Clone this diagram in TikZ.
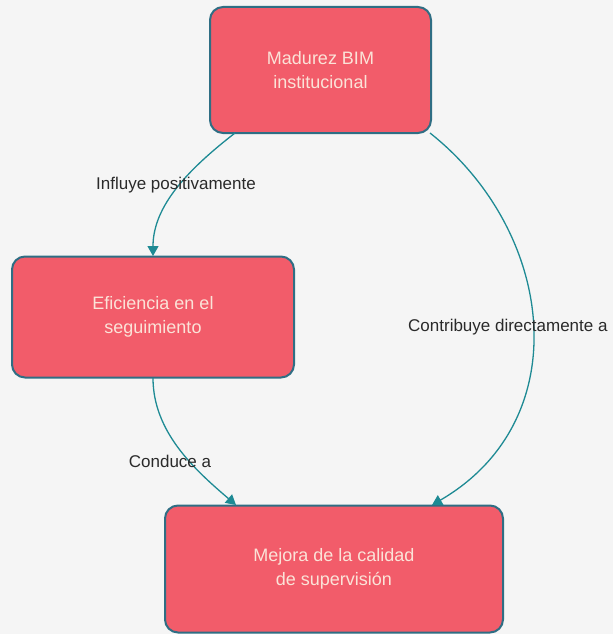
\documentclass[tikz,border=0pt]{standalone}
\usepackage{fontspec}
\setmainfont{Liberation Sans}
\usetikzlibrary{arrows.meta}
\definecolor{bg}{HTML}{F5F5F5}
\definecolor{boxfill}{HTML}{F25C6A}
\definecolor{boxline}{HTML}{2F6E84}
\definecolor{boxtext}{HTML}{FBE3D8}
\definecolor{edgecol}{HTML}{1E8A94}
\definecolor{labtext}{HTML}{2A2A2A}
\tikzset{
  boxnode/.style={draw=boxline, fill=boxfill, line width=2pt, rounded corners=13pt,
    text=boxtext, align=center, font=\fontsize{18}{23.5}\selectfont, inner sep=0pt},
  edgeline/.style={draw=edgecol, line width=1.3pt, -{Triangle[length=10pt,width=11pt]}},
  lab/.style={text=labtext, font=\fontsize{17}{20}\selectfont, inner sep=1pt}
}
\begin{document}
\begin{tikzpicture}[x=1pt,y=-1pt]
\fill[bg] (0,0) rectangle (613,634);
\useasboundingbox (0,0) rectangle (613,634);
\node[boxnode, minimum width=221pt, minimum height=126pt] (a) at (320.5,70) {Madurez BIM\\institucional};
\node[boxnode, minimum width=282pt, minimum height=121pt] (b) at (153,317) {Eficiencia en el\\seguimiento};
\node[boxnode, minimum width=338pt, minimum height=127pt] (c) at (334,569) {Mejora de la calidad\\de supervisión};
\coordinate (a1) at (235,133);
\coordinate (a2) at (430,133);
\coordinate (b1) at (153,256);
\coordinate (b2) at (153,378);
\coordinate (c1) at (236,505);
\coordinate (c2) at (432,505);
\draw[edgeline] (a1) .. controls (190,168) and (153,205) .. (b1);
\draw[edgeline] (b2) .. controls (153,432) and (195,470) .. (c1);
\draw[edgeline] (a2) .. controls (555,232) and (578,420) .. (c2);
\node[lab] (l1) at (176,185) {Influye positivamente};
\node[lab] (l2) at (170,461) {Conduce a};
\node[lab, anchor=west] (l3) at (407,327) {Contribuye directamente a};
\end{tikzpicture}
\end{document}
